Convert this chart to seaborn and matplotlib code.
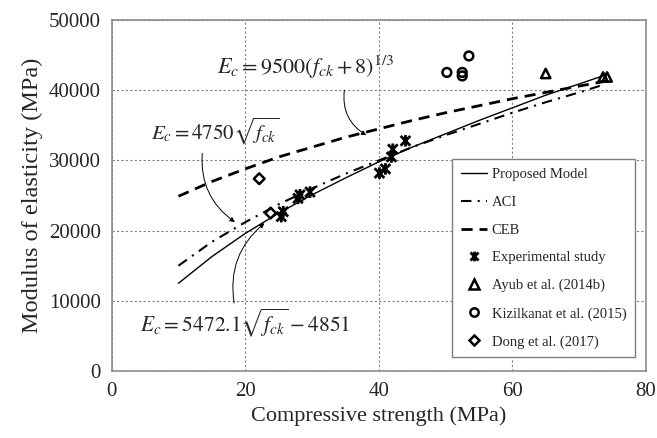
import matplotlib
matplotlib.use("Agg")
import matplotlib.pyplot as plt
from matplotlib.path import Path
from matplotlib.lines import Line2D
import seaborn as sns
import pandas as pd

# ---- data ----
curve_x = [10, 15, 20, 25, 30, 35, 40, 45, 50, 55, 60, 65, 70, 74]
proposed_y = [12500, 16300, 19600, 22500, 25100, 27500, 29800, 31900, 33800, 35700, 37500, 39300, 40900, 42200]
aci_y = [15000, 18400, 21200, 23750, 26000, 28100, 30000, 31900, 33600, 35200, 36800, 38300, 39700, 40900]
ceb_y = [24900, 27000, 28800, 30500, 31900, 33300, 34500, 35700, 36800, 37800, 38800, 39700, 40600, 41300]

exp_x = [25.4, 25.7, 27.9, 28.2, 29.7, 40.1, 41.0, 41.9, 42.1, 44.0]
exp_y = [22000, 22700, 24600, 25100, 25500, 28200, 28800, 30500, 31600, 32800]

ayub_x = [65.0, 73.6, 74.2]
ayub_y = [42400, 41900, 41900]

kiz_x = [50.2, 52.5, 52.5, 53.5]
kiz_y = [42550, 42550, 42050, 44900]

dong_x = [22.1, 23.8]
dong_y = [27400, 22500]

x_ticks = [0, 20, 40, 60, 80]
y_ticks = [0, 10000, 20000, 30000, 40000, 50000]

# ---- style ----
sns.set_theme(style="white")
plt.rcParams["font.family"] = ["Liberation Serif", "DejaVu Serif"]
plt.rcParams["mathtext.fontset"] = "stix"

fig = plt.figure(figsize=(6.57, 4.38), dpi=100)
ax = fig.add_axes([0.170, 0.153, 0.813, 0.801])

curves = pd.DataFrame({"x": curve_x * 3,
                       "y": proposed_y + aci_y + ceb_y,
                       "model": ["Proposed Model"] * len(curve_x) + ["ACI"] * len(curve_x) + ["CEB"] * len(curve_x)})

sns.lineplot(data=curves[curves.model == "Proposed Model"], x="x", y="y", ax=ax,
             color="black", lw=1.0, legend=False)
sns.lineplot(data=curves[curves.model == "ACI"], x="x", y="y", ax=ax,
             color="black", lw=1.5, legend=False)
sns.lineplot(data=curves[curves.model == "CEB"], x="x", y="y", ax=ax,
             color="black", lw=2.0, legend=False)
lines = ax.get_lines()
lines[1].set_linestyle((0, (5, 3, 1, 3)))
lines[2].set_linestyle((0, (4, 2.5)))

star = Path([(-1, -1), (1, 1), (-1, 1), (1, -1), (0, -1.2), (0, 1.2)],
            [Path.MOVETO, Path.LINETO, Path.MOVETO, Path.LINETO, Path.MOVETO, Path.LINETO])

sns.scatterplot(x=exp_x, y=exp_y, ax=ax, marker=star, s=70, facecolor="none",
                edgecolor="black", linewidth=2.0, legend=False, zorder=4)
sns.scatterplot(x=ayub_x, y=ayub_y, ax=ax, marker="^", s=45, facecolor="none",
                edgecolor="black", linewidth=1.8, legend=False, zorder=4)
sns.scatterplot(x=kiz_x, y=kiz_y, ax=ax, marker="o", s=40, facecolor="none",
                edgecolor="black", linewidth=1.8, legend=False, zorder=4)
sns.scatterplot(x=dong_x, y=dong_y, ax=ax, marker="D", s=30, facecolor="none",
                edgecolor="black", linewidth=1.8, legend=False, zorder=4)

ax.set_xlim(0, 80)
ax.set_ylim(0, 50000)
ax.set_xticks(x_ticks)
ax.set_yticks(y_ticks)
ax.tick_params(axis="both", length=0, labelsize=15, pad=8)
ax.set_xlabel("Compressive strength (MPa)", fontsize=16)
ax.set_ylabel("Modulus of elasticity (MPa)", fontsize=17.5, labelpad=4)
ax.grid(True, color="#7f7f7f", linestyle=(0, (2, 2)), linewidth=0.8)
for s in ax.spines.values():
    s.set_color("#8c8c8c")
    s.set_linewidth(1.2)

# ---- equations and arrows ----
ax.text(29, 43300, r"$E_c = 9500(f_{ck}+8)^{1/3}$", fontsize=16, ha="center", va="center")
ax.annotate("", xy=(38.5, 33400), xytext=(34.9, 40400),
            arrowprops=dict(arrowstyle="-|>", connectionstyle="arc3,rad=0.35",
                            lw=0.7, color="black", mutation_scale=7))
ax.text(15.5, 34200, r"$E_c = 4750\sqrt{f_{ck}}$", fontsize=15, ha="center", va="center")
ax.annotate("", xy=(18.8, 21000), xytext=(13.6, 31400),
            arrowprops=dict(arrowstyle="-|>", connectionstyle="arc3,rad=0.3",
                            lw=0.7, color="black", mutation_scale=7))
ax.text(20.0, 6900, r"$E_c = 5472.1\sqrt{f_{ck}} - 4851$", fontsize=15.5, ha="center", va="center")
ax.annotate("", xy=(23.2, 21300), xytext=(18.4, 9300),
            arrowprops=dict(arrowstyle="-|>", connectionstyle="arc3,rad=-0.3",
                            lw=0.7, color="black", mutation_scale=7))

# ---- legend ----
handles = [
    Line2D([], [], color="black", lw=1.0),
    Line2D([], [], color="black", lw=1.5, linestyle=(0, (5, 3, 1, 3))),
    Line2D([], [], color="black", lw=2.0, linestyle=(0, (4, 2.5))),
    Line2D([], [], color="black", lw=0, marker=star, markersize=7, markeredgewidth=2,
           markeredgecolor="black", markerfacecolor="none"),
    Line2D([], [], color="black", lw=0, marker="^", markersize=6.5, markerfacecolor="none", markeredgewidth=1.8),
    Line2D([], [], color="black", lw=0, marker="o", markersize=6, markerfacecolor="none", markeredgewidth=1.8),
    Line2D([], [], color="black", lw=0, marker="D", markersize=5, markerfacecolor="none", markeredgewidth=1.8),
]
labels = ["Proposed Model", "ACI", "CEB", "Experimental study", "Ayub et al. (2014b)",
          "Kizilkanat et al. (2015)", "Dong et al. (2017)"]
leg = ax.legend(handles, labels, loc="lower left", bbox_to_anchor=(0.624, 0.018),
                fontsize=10.5, frameon=True, fancybox=False, framealpha=1,
                edgecolor="#7f7f7f", handlelength=1.8, handletextpad=0.3,
                labelspacing=1.0, borderpad=0.6)
leg.get_frame().set_linewidth(1.0)

fig.savefig("out.png", dpi=100)
